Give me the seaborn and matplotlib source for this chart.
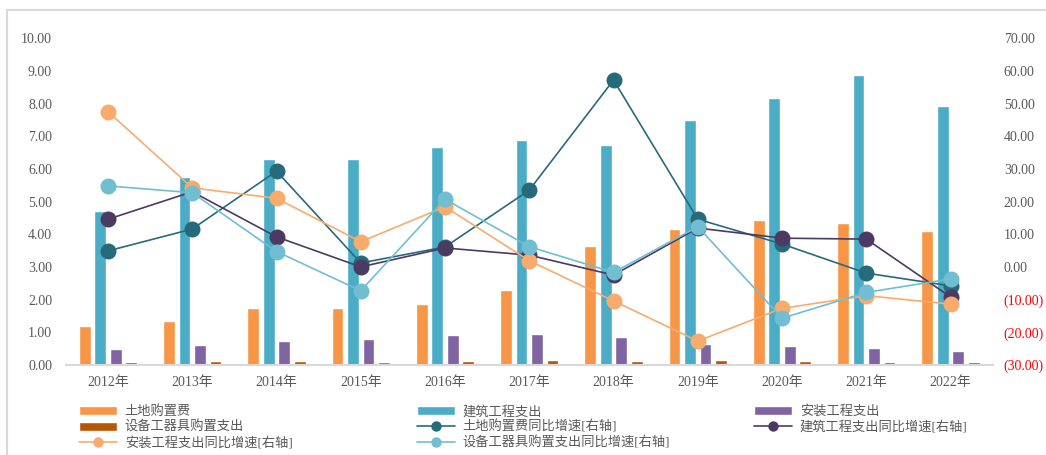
import numpy as np
import pandas as pd
import matplotlib
matplotlib.use('Agg')
import matplotlib.pyplot as plt
from matplotlib.lines import Line2D
import seaborn as sns

# --- data ---
years = ['2012年', '2013年', '2014年', '2015年', '2016年', '2017年',
         '2018年', '2019年', '2020年', '2021年', '2022年']

land = [1.20, 1.35, 1.75, 1.75, 1.87, 2.30, 3.63, 4.15, 4.43, 4.35, 4.10]
build = [4.70, 5.75, 6.30, 6.30, 6.67, 6.88, 6.72, 7.50, 8.18, 8.88, 7.92]
install = [0.48, 0.60, 0.72, 0.78, 0.93, 0.96, 0.84, 0.65, 0.57, 0.51, 0.44]
equip = [0.08, 0.12, 0.11, 0.10, 0.13, 0.14, 0.13, 0.15, 0.11, 0.10, 0.09]

land_yoy = [4.9, 11.6, 29.3, 1.2, 6.1, 23.5, 57.2, 14.6, 7.0, -1.9, -5.8]
build_yoy = [14.6, 23.0, 9.2, 0.0, 5.8, 3.6, -2.5, 11.9, 8.8, 8.5, -9.2]
install_yoy = [47.5, 24.2, 21.0, 7.7, 18.4, 1.9, -10.4, -22.7, -12.7, -8.8, -11.4]
equip_yoy = [24.8, 22.7, 4.7, -7.3, 20.7, 6.2, -1.7, 12.3, -15.7, -7.8, -3.7]

bar_names = ['土地购置费', '建筑工程支出', '安装工程支出', '设备工器具购置支出']
line_names = ['土地购置费同比增速[右轴]', '建筑工程支出同比增速[右轴]',
              '安装工程支出同比增速[右轴]', '设备工器具购置支出同比增速[右轴]']
bar_colors = ['#F79646', '#4BACC6', '#8064A2', '#B65708']
line_colors = ['#276A7C', '#4B3A62', '#F9AB6E', '#71BDD1']

sns.set_theme(style="white")
plt.rcParams['font.family'] = ['Liberation Serif', 'Noto Sans CJK SC']
plt.rcParams['axes.unicode_minus'] = False

bars_df = pd.DataFrame({
    'year': np.repeat(years, 4),
    'series': bar_names * len(years),
    'value': np.ravel(np.column_stack([land, build, install, equip])),
})
lines_df = pd.DataFrame({
    'x': np.tile(np.arange(len(years)), 4),
    'series': np.repeat(line_names, len(years)),
    'value': land_yoy + build_yoy + install_yoy + equip_yoy,
})

fig = plt.figure(figsize=(10.46, 4.55), dpi=100)
ax = fig.add_axes([0.063, 0.198, 0.886, 0.718])

sns.barplot(data=bars_df, x='year', y='value', hue='series', hue_order=bar_names,
            palette=bar_colors, width=0.736, gap=0.23, ax=ax, saturation=1)
bh, bl = ax.get_legend_handles_labels()
ax.get_legend().remove()

ax2 = ax.twinx()
sns.lineplot(data=lines_df, x='x', y='value', hue='series', hue_order=line_names,
             palette=line_colors, marker='o', markersize=11.5, markeredgewidth=0,
             linewidth=1.2, ax=ax2)
lh, ll = ax2.get_legend_handles_labels()
ax2.get_legend().remove()

ax.set_xlim(-0.5, 10.5)
ax.set_ylim(0, 10)
ax.set_yticks(np.arange(0, 11, 1), [f'{v:.2f}' for v in range(0, 11)])
ax2.set_ylim(-30, 70)
rticks = np.arange(-30, 71, 10)
ax2.set_yticks(rticks, [f'({abs(v):.2f})' if v < 0 else f'{v:.2f}' for v in rticks])

for a in (ax, ax2):
    a.set_xlabel('')
    a.set_ylabel('')
    for s in a.spines.values():
        s.set_visible(False)
    a.tick_params(length=0, labelsize=10, colors='#595959')
    a.grid(False)
ax.tick_params(axis='y', pad=10)
ax.tick_params(axis='x', pad=8)
ax2.tick_params(axis='y', pad=8)
for t, v in zip(ax2.get_yticklabels(), rticks):
    t.set_color('#FF0000' if v < 0 else '#595959')
ax.spines['bottom'].set_visible(True)
ax.spines['bottom'].set_color('#D9D9D9')
ax.spines['bottom'].set_linewidth(1.5)

# chart frame (top and left edges visible in the reference)
fig.add_artist(Line2D([7 / 1046, 1.0], [1 - 10 / 455, 1 - 10 / 455],
                      transform=fig.transFigure, color='#D9D9D9', lw=1.5))
fig.add_artist(Line2D([7 / 1046, 7 / 1046], [0, 1 - 10 / 455],
                      transform=fig.transFigure, color='#D9D9D9', lw=1.5))

# legend: three columns placed like the reference
handles = bh + lh
labels = bl + ll
cols = [[0, 3, 6], [1, 4, 7], [2, 5]]
col_x = [72 / 1046, 410 / 1046, 747 / 1046]
for xs, idx in zip(col_x, cols):
    fig.legend([handles[i] for i in idx], [labels[i] for i in idx],
               loc='upper left', bbox_to_anchor=(xs, 1 - 399 / 455),
               frameon=False, fontsize=9.5, labelspacing=0.18,
               handlelength=2.9, handletextpad=0.6, borderpad=0,
               markerscale=0.65, labelcolor='#595959')

fig.savefig('out.png', dpi=100)
